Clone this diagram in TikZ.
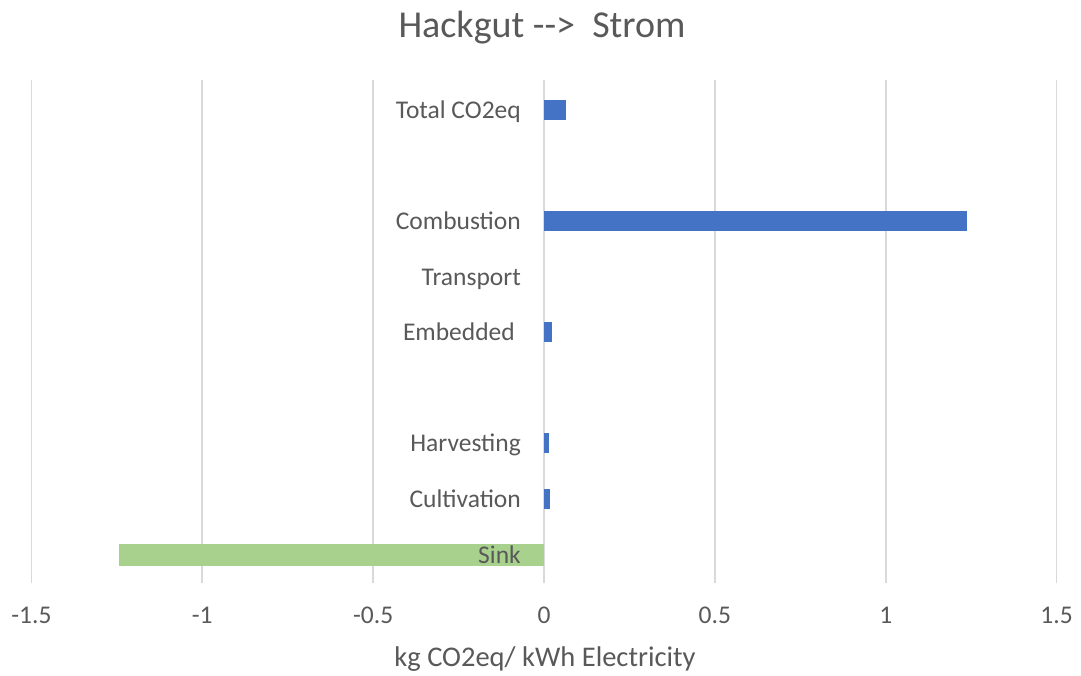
\documentclass[tikz,border=0pt]{standalone}
\usepackage{fontspec}
\setmainfont{Carlito}
\definecolor{barblue}{HTML}{4472C4}
\definecolor{sinkgreen}{HTML}{A9D18E}
\definecolor{gridgray}{HTML}{D9D9D9}
\definecolor{txtgray}{HTML}{595959}
\begin{document}
\begin{tikzpicture}[x=1pt,y=-1pt,
  gridline/.style={gridgray, line width=1.8pt},
  catlabel/.style={anchor=base east, text=txtgray, inner sep=0pt, font=\fontsize{25.5}{30}\selectfont},
  ticklabel/.style={anchor=base, text=txtgray, inner sep=0pt, font=\fontsize{25.5}{30}\selectfont},
  axistitle/.style={anchor=base, text=txtgray, inner sep=0pt, font=\fontsize{28.5}{33}\selectfont},
  charttitle/.style={anchor=base, text=txtgray, inner sep=0pt, font=\fontsize{38}{44}\selectfont},
  posbar/.style={fill=barblue},
  negbar/.style={fill=sinkgreen}
]
\useasboundingbox (0,0) rectangle (1081,675);
\fill[white] (0,0) rectangle (1081,675);

% value axis: 0 at x=544, 341.7 per unit
\def\xz{544}
\def\xs{341.7}

% vertical gridlines and tick labels
\foreach \v/\lab [count=\i] in {-1.5/-1.5,-1/-1,-0.5/-0.5,0/0,0.5/0.5,1/1,1.5/1.5} {
  \draw[gridline] ({\xz+\xs*\v},80) -- ({\xz+\xs*\v},583);
  \node[ticklabel] (tick\i) at ({\xz+\xs*\v},623) {\lab};
}

% bars (half height 10 around each category centre)
\fill[posbar] (\xz,100) rectangle ({\xz+\xs*0.063},120);   % Total CO2eq
\fill[posbar] (\xz,211) rectangle ({\xz+\xs*1.238},231);   % Combustion
\fill[posbar] (\xz,322) rectangle ({\xz+\xs*0.024},342);   % Embedded
\fill[posbar] (\xz,433) rectangle ({\xz+\xs*0.015},453);   % Harvesting
\fill[posbar] (\xz,489) rectangle ({\xz+\xs*0.018},509);   % Cultivation
\fill[negbar] ({\xz+\xs*(-1.243)},544) rectangle (\xz,566); % Sink

% category labels
\node[catlabel] (ltotal) at (521,118) {Total CO2eq};
\node[catlabel] (lcomb)  at (521,229) {Combustion};
\node[catlabel] (ltrans) at (521,285) {Transport};
\node[catlabel] (lemb)   at (515,340) {Embedded};
\node[catlabel] (lharv)  at (521,451) {Harvesting};
\node[catlabel] (lcult)  at (521,507) {Cultivation};
\node[catlabel] (lsink)  at (521,563) {Sink};

% titles
\node[charttitle] (title) at (542,37) {Hackgut {-}{-}>\ \ Strom};
\node[axistitle] (xtitle) at (545,666) {kg CO2eq/ kWh Electricity};
\end{tikzpicture}
\end{document}
